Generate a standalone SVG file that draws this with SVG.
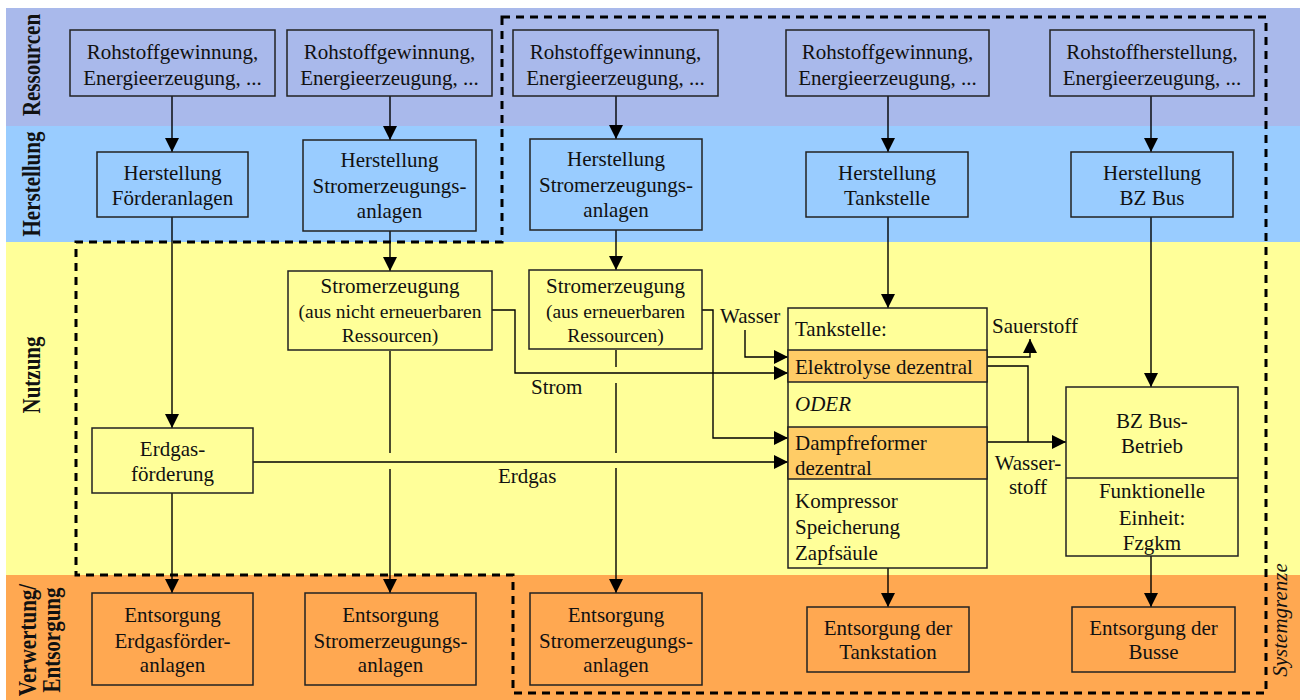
<svg xmlns="http://www.w3.org/2000/svg" width="1300" height="700" viewBox="0 0 1300 700">
  <defs>
    <marker id="arrow" markerUnits="userSpaceOnUse" markerWidth="14" markerHeight="14" viewBox="0 0 14 14" refX="14" refY="7" orient="auto">
      <path d="M0,0 L14,7 L0,14 z" fill="#000"/>
    </marker>
    <style>
      .t { font-family: "Liberation Serif", "Times New Roman", serif; font-size: 21px; fill: #111; }
      .s { font-size: 19.5px; }
      .c { text-anchor: middle; }
      .lbl { font-family: "Liberation Serif", "Times New Roman", serif; font-size: 21px; font-weight: bold; fill: #111; text-anchor: middle; }
      .box { stroke: #222; stroke-width: 1.5; }
      .res { fill: #A9B9EB; }
      .her { fill: #99CCFF; }
      .nut { fill: #FFFF99; }
      .ent { fill: #FFA851; }
      .hl { fill: #FFCC66; }
      .ln { fill: none; stroke: #000; stroke-width: 1.4; }
      .arr { marker-end: url(#arrow); }
      .border { fill: none; stroke: #000; stroke-width: 3; stroke-dasharray: 8 6; }
    </style>
  </defs>

  <!-- lifecycle bands -->
  <g id="bands">
    <rect x="6" y="8" width="1294" height="118" class="res"/>
    <rect x="6" y="126" width="1294" height="116" class="her"/>
    <rect x="6" y="242" width="1294" height="333" class="nut"/>
    <rect x="6" y="575" width="1294" height="125" class="ent"/>
    <text class="lbl" transform="translate(40,65) rotate(-90) scale(1,1.15)">Ressourcen</text>
    <text class="lbl" transform="translate(40,184) rotate(-90) scale(1,1.15)">Herstellung</text>
    <text class="lbl" transform="translate(40,375) rotate(-90) scale(1,1.15)">Nutzung</text>
    <text class="lbl" transform="translate(36,640) rotate(-90) scale(1,1.15)">Verwertung/</text>
    <text class="lbl" transform="translate(60,640) rotate(-90) scale(1,1.15)">Entsorgung</text>
  </g>

  <!-- system boundary -->
  <g id="systemgrenze">
    <path class="border" d="M502,17 L1266,17 L1266,693 L513,693 L513,575 L76,575 L76,242 L502,242 Z"/>
    <text class="t c" font-style="italic" transform="translate(1287,620) rotate(-90)">Systemgrenze</text>
  </g>

  <!-- connectors -->
  <g id="connectors">
    <path class="ln arr" d="M172,96 V152"/>
    <path class="ln arr" d="M172,217 V428"/>
    <path class="ln arr" d="M172,493 V593"/>

    <path class="ln arr" d="M390,96 V140"/>
    <path class="ln arr" d="M390,231 V271"/>
    <path class="ln" d="M390,351 V453"/>
    <path class="ln arr" d="M390,469 V593"/>

    <path class="ln arr" d="M616,96 V139"/>
    <path class="ln arr" d="M616,230 V270"/>
    <path class="ln" d="M616,350 V367"/>
    <path class="ln" d="M616,383 V453"/>
    <path class="ln arr" d="M616,468 V593"/>

    <path class="ln arr" d="M888,96 V152"/>
    <path class="ln arr" d="M888,217 V308"/>
    <path class="ln arr" d="M888,568 V607"/>

    <path class="ln arr" d="M1151,96 V152"/>
    <path class="ln arr" d="M1151,217 V387"/>
    <path class="ln arr" d="M1151,556 V607"/>

    <path class="ln arr" d="M492,310 H515 V373 H788"/>
    <path class="ln arr" d="M702,310 H713 V438 H788"/>
    <path class="ln arr" d="M745,330 V357 H788"/>
    <path class="ln arr" d="M253,462 H788"/>
    <path class="ln arr" stroke-width="2.2" d="M987,357 H1030 V339"/>
    <path class="ln" d="M987,366 H1028 V442"/>
    <path class="ln arr" d="M987,442 H1066"/>

    <text class="t" x="531" y="394">Strom</text>
    <text class="t" x="498" y="483">Erdgas</text>
    <text class="t" x="720" y="323">Wasser</text>
    <text class="t" x="992" y="333">Sauerstoff</text>
    <text class="t c" x="1028" y="470">Wasser-</text>
    <text class="t c" x="1028" y="494">stoff</text>
  </g>

  <!-- Ressourcen -->
  <g id="res1">
    <rect x="70" y="30" width="205" height="66" class="box res"/>
    <text class="t c" x="172.5" y="59">Rohstoffgewinnung,</text>
    <text class="t c" x="172.5" y="85">Energieerzeugung, ...</text>
  </g>
  <g id="res2">
    <rect x="287" y="30" width="205" height="66" class="box res"/>
    <text class="t c" x="389.5" y="59">Rohstoffgewinnung,</text>
    <text class="t c" x="389.5" y="85">Energieerzeugung, ...</text>
  </g>
  <g id="res3">
    <rect x="513" y="30" width="205" height="66" class="box res"/>
    <text class="t c" x="615.5" y="59">Rohstoffgewinnung,</text>
    <text class="t c" x="615.5" y="85">Energieerzeugung, ...</text>
  </g>
  <g id="res4">
    <rect x="786" y="30" width="203" height="66" class="box res"/>
    <text class="t c" x="887.5" y="59">Rohstoffgewinnung,</text>
    <text class="t c" x="887.5" y="85">Energieerzeugung, ...</text>
  </g>
  <g id="res5">
    <rect x="1050" y="30" width="204" height="66" class="box res"/>
    <text class="t c" x="1152" y="59">Rohstoffherstellung,</text>
    <text class="t c" x="1152" y="85">Energieerzeugung, ...</text>
  </g>

  <!-- Herstellung -->
  <g id="her1">
    <rect x="97" y="152" width="151" height="65" class="box her"/>
    <text class="t c" x="172.5" y="180">Herstellung</text>
    <text class="t c" x="172.5" y="205">Förderanlagen</text>
  </g>
  <g id="her2">
    <rect x="303" y="140" width="173" height="91" class="box her"/>
    <text class="t c" x="389.5" y="167">Herstellung</text>
    <text class="t c" x="389.5" y="193">Stromerzeugungs-</text>
    <text class="t c" x="389.5" y="218">anlagen</text>
  </g>
  <g id="her3">
    <rect x="530" y="139" width="172" height="91" class="box her"/>
    <text class="t c" x="616" y="166">Herstellung</text>
    <text class="t c" x="616" y="192">Stromerzeugungs-</text>
    <text class="t c" x="616" y="217">anlagen</text>
  </g>
  <g id="her4">
    <rect x="806" y="152" width="162" height="65" class="box her"/>
    <text class="t c" x="887" y="180">Herstellung</text>
    <text class="t c" x="887" y="205">Tankstelle</text>
  </g>
  <g id="her5">
    <rect x="1071" y="152" width="162" height="65" class="box her"/>
    <text class="t c" x="1152" y="180">Herstellung</text>
    <text class="t c" x="1152" y="205">BZ Bus</text>
  </g>

  <!-- Nutzung -->
  <g id="strom-fossil">
    <rect x="288" y="271" width="204" height="79" class="box nut"/>
    <text class="t c" x="390" y="293">Stromerzeugung</text>
    <text class="t s c" x="390" y="318">(aus nicht erneuerbaren</text>
    <text class="t s c" x="390" y="342">Ressourcen)</text>
  </g>
  <g id="strom-regenerativ">
    <rect x="529" y="270" width="173" height="79" class="box nut"/>
    <text class="t c" x="615.5" y="293">Stromerzeugung</text>
    <text class="t s c" x="615.5" y="318">(aus erneuerbaren</text>
    <text class="t s c" x="615.5" y="342">Ressourcen)</text>
  </g>
  <g id="erdgasfoerderung">
    <rect x="92" y="428" width="161" height="65" class="box nut"/>
    <text class="t c" x="172.5" y="456">Erdgas-</text>
    <text class="t c" x="172.5" y="481">förderung</text>
  </g>
  <g id="tankstelle">
    <rect x="788" y="308" width="199" height="260" class="box nut"/>
    <rect x="788" y="350" width="199" height="32" class="box hl"/>
    <rect x="788" y="427" width="199" height="52" class="box hl"/>
    <text class="t" x="795" y="336">Tankstelle:</text>
    <text class="t" x="795" y="374">Elektrolyse dezentral</text>
    <text class="t" x="795" y="411" font-style="italic" font-size="18">ODER</text>
    <text class="t" x="795" y="450">Dampfreformer</text>
    <text class="t" x="795" y="475">dezentral</text>
    <text class="t" x="795" y="508">Kompressor</text>
    <text class="t" x="795" y="534">Speicherung</text>
    <text class="t" x="795" y="560">Zapfsäule</text>
  </g>
  <g id="bus-betrieb">
    <rect x="1066" y="387" width="172" height="169" class="box nut"/>
    <line x1="1066" y1="478" x2="1238" y2="478" class="box"/>
    <text class="t c" x="1152" y="428">BZ Bus-</text>
    <text class="t c" x="1152" y="453">Betrieb</text>
    <text class="t c" x="1152" y="498">Funktionelle</text>
    <text class="t c" x="1152" y="525">Einheit:</text>
    <text class="t c" x="1152" y="550">Fzgkm</text>
  </g>

  <!-- Verwertung / Entsorgung -->
  <g id="ent1">
    <rect x="92" y="593" width="161" height="92" class="box ent"/>
    <text class="t c" x="172.5" y="622">Entsorgung</text>
    <text class="t c" x="172.5" y="648">Erdgasförder-</text>
    <text class="t c" x="172.5" y="672">anlagen</text>
  </g>
  <g id="ent2">
    <rect x="305" y="593" width="171" height="92" class="box ent"/>
    <text class="t c" x="390.5" y="622">Entsorgung</text>
    <text class="t c" x="390.5" y="648">Stromerzeugungs-</text>
    <text class="t c" x="390.5" y="672">anlagen</text>
  </g>
  <g id="ent3">
    <rect x="530" y="593" width="172" height="92" class="box ent"/>
    <text class="t c" x="616" y="622">Entsorgung</text>
    <text class="t c" x="616" y="648">Stromerzeugungs-</text>
    <text class="t c" x="616" y="672">anlagen</text>
  </g>
  <g id="ent4">
    <rect x="807" y="607" width="162" height="65" class="box ent"/>
    <text class="t c" x="888" y="635">Entsorgung der</text>
    <text class="t c" x="888" y="659">Tankstation</text>
  </g>
  <g id="ent5">
    <rect x="1072" y="607" width="163" height="65" class="box ent"/>
    <text class="t c" x="1153.5" y="635">Entsorgung der</text>
    <text class="t c" x="1153.5" y="659">Busse</text>
  </g>
</svg>
